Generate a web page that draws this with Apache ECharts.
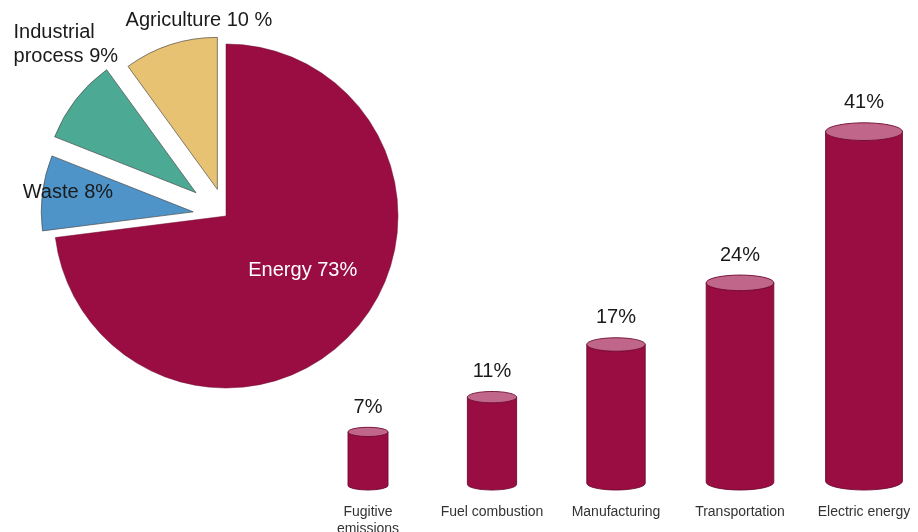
<!DOCTYPE html>
<html>
<head>
<meta charset="utf-8">
<script src="https://cdn.jsdelivr.net/npm/echarts@6/dist/echarts.min.js"></script>
<style>
  html, body { margin: 0; padding: 0; background: #fff; }
  #chart { width: 918px; height: 532px; }
</style>
</head>
<body>
<div id="chart"></div>
<script>
// Emissions by sector (exploded pie) and energy-sector breakdown (cylinders)
const sectorNames = ['Energy', 'Waste', 'Industrial\nprocess', 'Agriculture'];
const sectorShares = [73, 8, 9, 10];
const sectorUnits = ['%', '%', '%', ' %'];

const energyUses = ['Fugitive\nemissions', 'Fuel combustion', 'Manufacturing', 'Transportation', 'Electric energy'];
const energyShares = [7, 11, 17, 24, 41];

const FONT = '"Liberation Sans", Arial, Helvetica, sans-serif';
const CRIMSON = '#990d42';
const CAP = '#c0668a';
const EDGE = '#6e0a30';
const sectorColors = [CRIMSON, '#4e94c9', '#4caa94', '#e8c273'];

// pie geometry and per-slice styling
const pieCenter = [226, 216];
const pieRadius = [172, 152, 152, 152];
const explode = [0, 33, 38, 28];
const labelShift = [[10, -4, 'center'], [-47, -9, 'center'], [-120, -100, 'left'], [6, -94, 'center']];
const labelColors = ['#ffffff', '#1a1a1a', '#1a1a1a', '#1a1a1a'];

const total = sectorShares.reduce((a, b) => a + b, 0);
let acc = 0;
const pieSeries = sectorShares.map((v, k) => {
  const mid = 90 - (acc + v / 2) / total * 360;
  acc += v;
  const rad = mid * Math.PI / 180;
  const cx = pieCenter[0] + explode[k] * Math.cos(rad);
  const cy = pieCenter[1] - explode[k] * Math.sin(rad);
  return {
    type: 'pie',
    silent: true,
    animation: false,
    startAngle: 90,
    clockwise: true,
    center: [cx, cy],
    radius: [0, pieRadius[k]],
    avoidLabelOverlap: false,
    emphasis: { disabled: true },
    data: sectorShares.map((val, j) => ({
      value: val,
      name: sectorNames[j],
      itemStyle: j === k
        ? { color: sectorColors[j], borderColor: k ? '#4d4d4d' : EDGE, borderWidth: k ? 0.7 : 0.5 }
        : { color: 'rgba(0,0,0,0)', borderWidth: 0 },
      label: { show: j === k }
    })),
    label: {
      position: 'inside',
      formatter: p => p.name + ' ' + p.value + sectorUnits[p.dataIndex],
      color: labelColors[k],
      fontSize: 20,
      lineHeight: 24,
      fontFamily: FONT
    },
    labelLine: { show: false },
    labelLayout: () => ({ dx: labelShift[k][0], dy: labelShift[k][1], align: labelShift[k][2] })
  };
});

// cylinder drawn from the axis coordinates of value 0 and value v
function renderCylinder(params, api) {
  const i = api.value(0);
  const v = api.value(1);
  const base = api.coord([i, 0]);
  const top = api.coord([i, v]);
  const w = 40 + 9.2 * i;          // cylinders widen from left to right
  const rx = w / 2;
  const ry = w * 0.115;
  const cx = base[0];
  const yTop = top[1] + ry;
  const yBot = base[1] - ry;
  return {
    type: 'group',
    children: [
      {
        type: 'path',
        shape: {
          pathData: 'M' + (cx - rx) + ' ' + yTop + ' L' + (cx - rx) + ' ' + yBot +
            ' A' + rx + ' ' + ry + ' 0 0 0 ' + (cx + rx) + ' ' + yBot +
            ' L' + (cx + rx) + ' ' + yTop + ' Z'
        },
        style: { fill: CRIMSON, stroke: EDGE, lineWidth: 0.9 }
      },
      {
        type: 'ellipse',
        shape: { cx: cx, cy: yTop, rx: rx, ry: ry },
        style: { fill: CAP, stroke: EDGE, lineWidth: 0.9 }
      },
      {
        type: 'text',
        x: cx,
        y: top[1] - 10,
        style: {
          text: v + '%',
          fill: '#1a1a1a',
          font: '20px ' + FONT,
          align: 'center',
          verticalAlign: 'bottom'
        }
      }
    ]
  };
}

const chart = echarts.init(document.getElementById('chart'), null, { renderer: 'canvas' });
chart.setOption({
  backgroundColor: '#ffffff',
  animation: false,
  grid: { left: 368, right: 54, top: 87, bottom: 42, containLabel: false, outerBoundsMode: 'none' },
  xAxis: {
    type: 'category',
    data: energyUses,
    boundaryGap: false,
    axisLine: { show: false },
    axisTick: { show: false },
    splitLine: { show: false },
    axisLabel: {
      interval: 0,
      color: '#333333',
      fontSize: 14,
      lineHeight: 17,
      margin: 14,
      fontFamily: FONT
    }
  },
  yAxis: {
    type: 'value',
    min: 0,
    max: 45,
    show: false,
    splitLine: { show: false }
  },
  series: pieSeries.concat([{
    type: 'custom',
    silent: true,
    data: energyShares.map((v, i) => [i, v]),
    renderItem: renderCylinder
  }])
});
</script>
</body>
</html>
